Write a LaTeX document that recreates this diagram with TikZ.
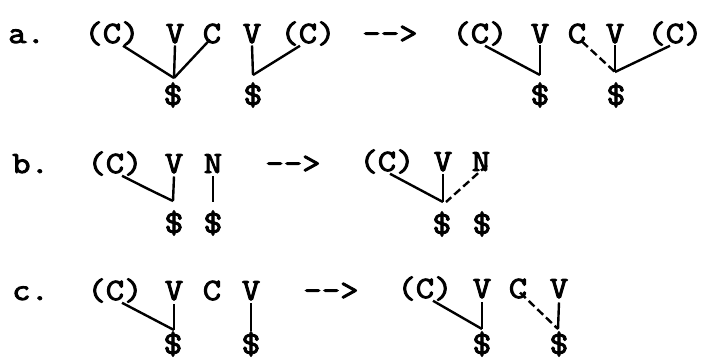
\documentclass[tikz,border=0pt]{standalone}
\usepackage{fontspec}
% heavy typewriter face
\newfontfamily\typer{Latin Modern Mono}[FakeBold=3,FakeStretch=1.15]
\begin{document}
\begin{tikzpicture}[x=1pt,y=-1pt,
  sym/.style={inner sep=0pt,anchor=base,font=\typer\fontsize{31}{31}\selectfont},
  lab/.style={sym,anchor=base west},
  dol/.style={inner sep=0pt,anchor=center,font=\typer\fontsize{32}{32}\selectfont},
  assoc/.style={line width=2.4pt},
  newassoc/.style={assoc,dash pattern=on 8pt off 4pt}]
\useasboundingbox (0,0) rectangle (702,360);

% ---- row a ----
\node[lab] (la) at (8,43) {a.};
\node[sym] (a1) at (112,43) {(C)};
\node[sym] (a2) at (175,43) {V};
\node[sym] (a3) at (212,43) {C};
\node[sym] (a4) at (252,43) {V};
\node[sym] (a5) at (308,43) {(C)};
\node[sym] (ar1) at (390,43) {-->};
\node[sym] (a6) at (480,43) {(C)};
\node[sym] (a7) at (540,43) {V};
\node[sym] (a8) at (577,43) {C};
\node[sym] (a9) at (615,43) {V};
\node[sym] (a10) at (675,43) {(C)};
\node[dol] (da1) at (173,95) {\$};
\node[dol] (da2) at (253,95) {\$};
\node[dol] (da3) at (540,95) {\$};
\node[dol] (da4) at (616,95) {\$};
\coordinate (ja1) at (174,78);
\coordinate (ja2) at (253,75);
\coordinate (ja3) at (540,75);
\coordinate (ja4) at (615,72);
\draw[assoc] ([xshift=11]a1.south) -- (ja1);
\draw[assoc] ([yshift=-2]a2.south) -- (ja1);
\draw[assoc] ([shift={(-2,-4)}]a3.south) -- (ja1);
\draw[assoc] ([yshift=-2]a4.south) -- (ja2);
\draw[assoc] ([xshift=-8]a5.south) -- (ja2);
\draw[assoc] ([xshift=5]a6.south) -- (ja3);
\draw[assoc] ([yshift=-2]a7.south) -- (ja3);
\draw[newassoc] ([shift={(5,-2)}]a8.south) -- (ja4);
\draw[assoc] ([yshift=-2]a9.south) -- (ja4);
\draw[assoc] ([xshift=-5]a10.south) -- (ja4);

% ---- row b ----
\node[lab] (lb) at (12,173) {b.};
\node[sym] (b1) at (115,173) {(C)};
\node[sym] (b2) at (174,173) {V};
\node[sym] (b3) at (213,173) {N};
\node[sym] (ar2) at (293,173) {-->};
\node[sym] (b4) at (387,171) {(C)};
\node[sym] (b5) at (443,171) {V};
\node[sym] (b6) at (481,171) {N};
\node[dol] (db1) at (174,223) {\$};
\node[dol] (db2) at (213,223) {\$};
\node[dol] (db3) at (442,224) {\$};
\node[dol] (db4) at (482,224) {\$};
\coordinate (jb1) at (173,201);
\coordinate (jb2) at (213,202);
\coordinate (jb3) at (443,202);
\draw[assoc] ([xshift=7]b1.south) .. controls (150,190) .. (jb1);
\draw[assoc] ([yshift=-3]b2.south) -- (jb1);
\draw[assoc] ([yshift=-3]b3.south) -- (jb2);
\draw[assoc] ([xshift=3]b4.south) -- (jb3);
\draw[assoc] ([yshift=-3]b5.south) -- (jb3);
\draw[newassoc] ([shift={(6,-6)}]b6.south) -- ([xshift=3]jb3);

% ---- row c ----
\node[lab] (lc) at (12,300) {c.};
\node[sym] (c1) at (115,300) {(C)};
\node[sym] (c2) at (174,300) {V};
\node[sym] (c3) at (212,300) {C};
\node[sym] (c4) at (251,300) {V};
\node[sym] (ar3) at (331,300) {-->};
\node[sym] (c5) at (425,298) {(C)};
\node[sym] (c6) at (482,298) {V};
\node[sym] (c7) at (518,298) {C};
\node[sym] (c8) at (559,298) {V};
\node[dol] (dc1) at (173,344) {\$};
\node[dol] (dc2) at (251,344) {\$};
\node[dol] (dc3) at (482,344) {\$};
\node[dol] (dc4) at (559,344) {\$};
\coordinate (jc1) at (174,330);
\coordinate (jc2) at (251,331);
\coordinate (jc3) at (482,329);
\coordinate (jc4) at (558,329);
\draw[assoc] ([xshift=7]c1.south) -- (jc1);
\draw[assoc] ([yshift=-4]c2.south) -- (jc1);
\draw[assoc] ([yshift=-3]c4.south) -- (jc2);
\draw[assoc] ([xshift=8]c5.south) -- (jc3);
\draw[assoc] ([yshift=-4]c6.south) -- (jc3);
\draw[newassoc] ([shift={(2,-6)}]c7.south) -- (jc4);
\draw[assoc] ([yshift=-4]c8.south) -- (jc4);
\end{tikzpicture}
\end{document}
